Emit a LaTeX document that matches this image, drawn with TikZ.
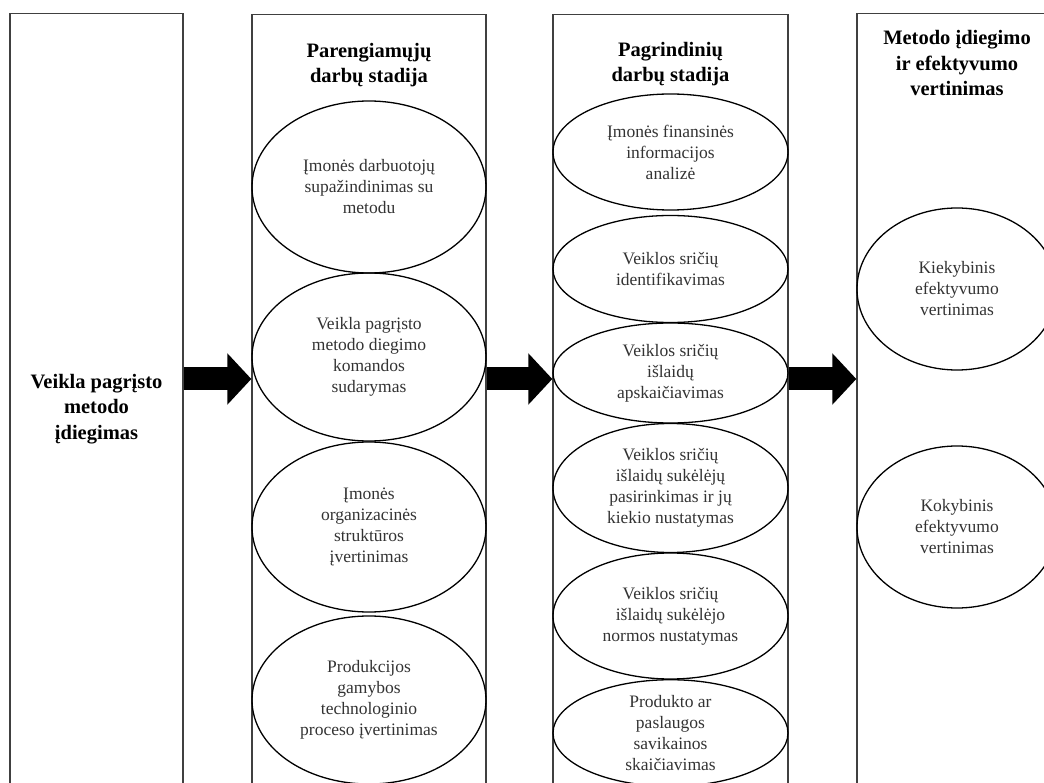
\documentclass[tikz,border=0pt]{standalone}
\usepackage{fontspec}
\setmainfont{Liberation Serif}
\usetikzlibrary{shapes.geometric,arrows.meta}

\begin{document}
\begin{tikzpicture}[x=1pt,y=-1pt,
    stulp/.style={draw=black!75,line width=1.3pt,minimum height=800pt,anchor=north,inner sep=0pt},
    elip/.style={ellipse,draw,line width=1.3pt,inner sep=0pt,align=center,text=black!80,font=\fontsize{17.5}{21}\selectfont},
    antr/.style={align=center,font=\bfseries\fontsize{20.5}{25.5}\selectfont},
    rodykle/.style={line width=23pt,-{Triangle[length=24pt,width=50pt]}}]
\useasboundingbox (0,0) rectangle (1044,783);
\clip (0,0) rectangle (1044,783);
\node[stulp,minimum width=173pt](s1)at(96.5,13){};
\node[stulp,minimum width=234pt](s2)at(369,14){};
\node[stulp,minimum width=235pt](s3)at(670.5,14){};
\node[stulp,minimum width=200pt](s4)at(957,13){};
\node[antr](t1)at(96.5,409){Veikla pagrįsto\\metodo\\įdiegimas};
\node[antr](t2)at(369,65){Parengiamųjų\\darbų stadija};
\node[antr](t3)at(670.5,64){Pagrindinių\\darbų stadija};
\node[antr](t4)at(957,63){Metodo įdiegimo\\ir efektyvumo\\vertinimas};
\node[elip,minimum width=234pt,minimum height=172pt](p1)at(369,187){Įmonės darbuotojų\\supažindinimas su\\metodu};
\node[elip,minimum width=234pt,minimum height=168pt](p2)at(369,357){Veikla pagrįsto\\metodo diegimo\\komandos\\sudarymas};
\node[elip,minimum width=234pt,minimum height=170pt](p3)at(369,527){Įmonės\\organizacinės\\struktūros\\įvertinimas};
\node[elip,minimum width=234pt,minimum height=168pt](p4)at(369,700){Produkcijos\\gamybos\\technologinio\\proceso įvertinimas};
\node[elip,minimum width=235pt,minimum height=116pt](g1)at(670.5,152){Įmonės finansinės\\informacijos\\analizė};
\node[elip,minimum width=235pt,minimum height=107pt](g2)at(670.5,269){Veiklos sričių\\identifikavimas};
\node[elip,minimum width=235pt,minimum height=100pt](g3)at(670.5,373){Veiklos sričių\\išlaidų\\apskaičiavimas};
\node[elip,minimum width=235pt,minimum height=129pt](g4)at(670.5,488){Veiklos sričių\\išlaidų sukėlėjų\\pasirinkimas ir jų\\kiekio nustatymas};
\node[elip,minimum width=235pt,minimum height=126pt](g5)at(670.5,616){Veiklos sričių\\išlaidų sukėlėjo\\normos nustatymas};
\node[elip,minimum width=235pt,minimum height=104pt](g6)at(670.5,733){Produkto ar\\paslaugos\\savikainos\\skaičiavimas};
\node[elip,minimum width=200pt,minimum height=162pt](v1)at(957,289){Kiekybinis\\efektyvumo\\vertinimas};
\node[elip,minimum width=200pt,minimum height=162pt](v2)at(957,527){Kokybinis\\efektyvumo\\vertinimas};
\coordinate(ay)at(0,379);
\draw[rodykle](s1.east|-ay)--(s2.west|-ay);
\draw[rodykle](s2.east|-ay)--(s3.west|-ay);
\draw[rodykle](s3.east|-ay)--(s4.west|-ay);
\end{tikzpicture}
\end{document}
